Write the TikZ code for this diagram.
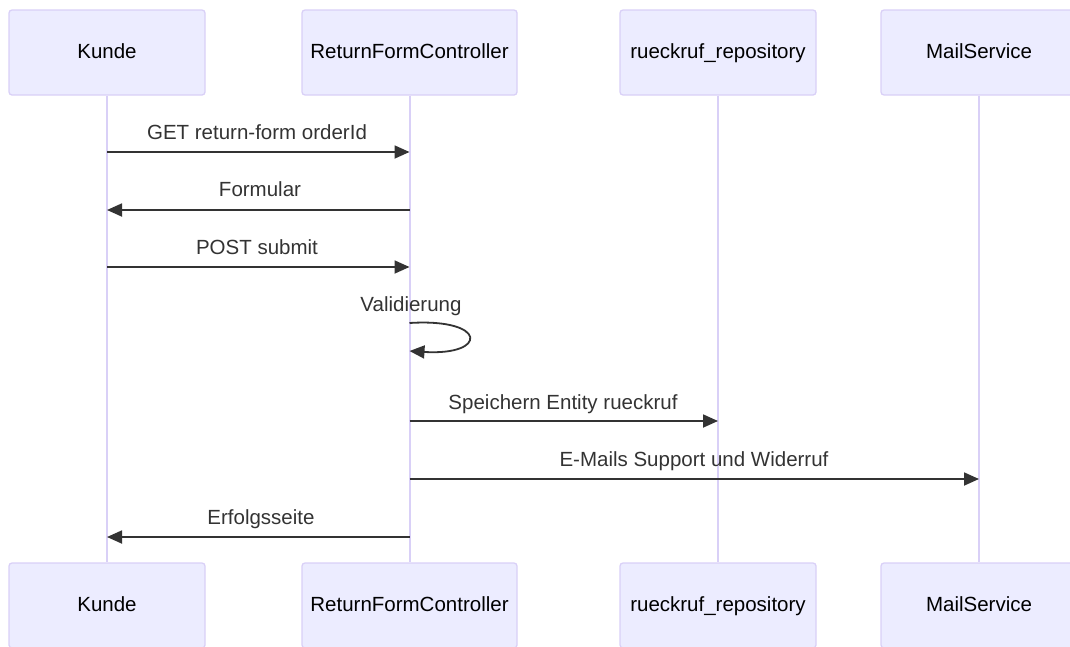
\documentclass[tikz,border=0pt]{standalone}
\usepackage{fontspec}
\setmainfont{Liberation Sans}
\usetikzlibrary{arrows.meta}
\definecolor{boxfill}{HTML}{ECECFF}
\definecolor{boxline}{HTML}{D9D0F7}
\definecolor{lifeline}{HTML}{D9D0F7}
\definecolor{msg}{HTML}{333333}
\tikzset{
  actor/.style={draw=boxline, line width=1.3pt, fill=boxfill, rounded corners=3pt,
    minimum width=196pt, minimum height=85pt, inner sep=0pt, text height=15pt, text depth=4pt,
    font=\fontsize{20.5}{24}\selectfont, text=black},
  life/.style={draw=lifeline, line width=2pt},
  msgline/.style={draw=msg, line width=1.8pt, -{Triangle[length=15pt,width=13pt]}},
  lbl/.style={font=\fontsize{20.5}{24}\selectfont, text=msg, inner sep=0pt, text height=15pt, text depth=4pt}
}
\begin{document}
\begin{tikzpicture}[x=1pt,y=-1pt]
\useasboundingbox (0,0) rectangle (1070,646);
\clip (0,0) rectangle (1070,646);
% top actors
\node[actor] (k1) at (107,52.5) {Kunde};
\node[actor, minimum width=215pt] (c1) at (409.5,52.5) {ReturnFormController};
\node[actor] (r1) at (718,52.5) {rueckruf\_repository};
\node[actor] (m1) at (979,52.5) {MailService};
% bottom actors
\node[actor] (k2) at (107,605.5) {Kunde};
\node[actor, minimum width=215pt] (c2) at (409.5,605.5) {ReturnFormController};
\node[actor] (r2) at (718,605.5) {rueckruf\_repository};
\node[actor] (m2) at (979,605.5) {MailService};
% lifelines
\draw[life] (k1.south) -- (k2.north);
\draw[life] (c1.south) -- (c2.north);
\draw[life] (r1.south) -- (r2.north);
\draw[life] (m1.south) -- (m2.north);
% messages
\coordinate (k152) at (k1.south |- 0,152);
\coordinate (c152) at (c1.south |- 0,152);
\draw[msgline] (k152) -- (c152);
\node[lbl] at (257,134) {GET return-form orderId};

\coordinate (k210) at (k1.south |- 0,210);
\coordinate (c210) at (c1.south |- 0,210);
\draw[msgline] (c210) -- (k210);
\node[lbl] at (260,191) {Formular};

\coordinate (k267) at (k1.south |- 0,267);
\coordinate (c267) at (c1.south |- 0,267);
\draw[msgline] (k267) -- (c267);
\node[lbl] at (257,249) {POST submit};

% self loop
\coordinate (c323) at (c1.south |- 0,323);
\coordinate (c351) at (c1.south |- 0,351);
\draw[msgline] (c323) .. controls (488,318) and (488,356) .. (c351);
\node[lbl] at (411,306) {Validierung};

\coordinate (c421) at (c1.south |- 0,421);
\coordinate (r421) at (r1.south |- 0,421);
\draw[msgline] (c421) -- (r421);
\node[lbl] at (563,404) {Speichern Entity rueckruf};

\coordinate (c479) at (c1.south |- 0,479);
\coordinate (m479) at (m1.south |- 0,479);
\draw[msgline] (c479) -- (m479);
\node[lbl] at (694,461) {E-Mails Support und Widerruf};

\coordinate (k537) at (k1.south |- 0,537);
\coordinate (c537) at (c1.south |- 0,537);
\draw[msgline] (c537) -- (k537);
\node[lbl] at (261,519) {Erfolgsseite};
\end{tikzpicture}
\end{document}
